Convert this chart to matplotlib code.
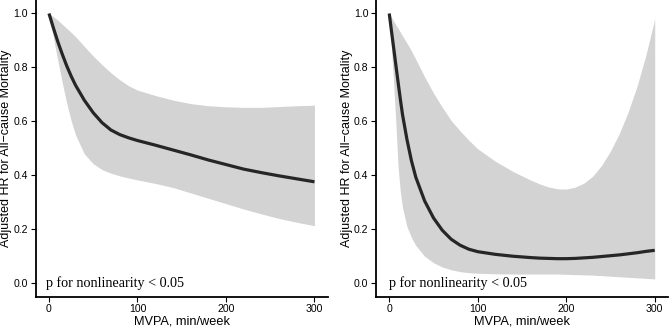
import matplotlib
matplotlib.use("Agg")
import matplotlib.pyplot as plt

# MVPA (min/week) grid and spline estimates
mvpa_left = [0, 5, 10, 15, 20, 25, 30, 40, 50, 60, 70, 80, 90, 100,
             120, 140, 160, 180, 200, 220, 240, 260, 280, 300]
hr_left = [1.0, 0.946, 0.895, 0.849, 0.806, 0.768, 0.734, 0.678, 0.632, 0.595,
           0.568, 0.551, 0.539, 0.529, 0.512, 0.494, 0.476, 0.457, 0.44,
           0.423, 0.41, 0.398, 0.387, 0.376]
upper_left = [1.0, 0.988, 0.975, 0.96, 0.945, 0.93, 0.914, 0.878, 0.842, 0.81,
              0.78, 0.754, 0.732, 0.716, 0.696, 0.679, 0.666, 0.658, 0.654,
              0.652, 0.652, 0.655, 0.658, 0.66]
lower_left = [1.0, 0.91, 0.825, 0.743, 0.668, 0.603, 0.55, 0.479, 0.443, 0.421,
              0.408, 0.398, 0.39, 0.383, 0.37, 0.355, 0.335, 0.315, 0.295,
              0.275, 0.257, 0.24, 0.226, 0.213]

mvpa_right = [0, 2.5, 5, 7.5, 10, 12.5, 15, 20, 25, 30, 40, 50, 60, 70, 80, 90,
              100, 120, 140, 160, 170, 180, 190, 200, 210, 220, 230, 240, 250,
              260, 270, 280, 290, 300]
hr_right = [1.0, 0.935, 0.872, 0.808, 0.745, 0.683, 0.625, 0.533, 0.455, 0.393,
            0.305, 0.242, 0.196, 0.163, 0.141, 0.126, 0.117, 0.107, 0.1, 0.095,
            0.093, 0.092, 0.091, 0.091, 0.092, 0.094, 0.096, 0.099, 0.102,
            0.105, 0.109, 0.113, 0.118, 0.122]
upper_right = [1.0, 0.986, 0.972, 0.958, 0.945, 0.931, 0.917, 0.89, 0.862, 0.83,
               0.765, 0.705, 0.652, 0.603, 0.565, 0.53, 0.498, 0.452, 0.414,
               0.382, 0.368, 0.357, 0.35, 0.349, 0.356, 0.371, 0.397, 0.437,
               0.49, 0.555, 0.635, 0.73, 0.845, 0.98]
lower_right = [1.0, 0.87, 0.74, 0.59, 0.43, 0.34, 0.28, 0.21, 0.17, 0.14, 0.1,
               0.076, 0.06, 0.05, 0.043, 0.039, 0.037, 0.035, 0.034, 0.034,
               0.034, 0.034, 0.034, 0.033, 0.032, 0.031, 0.03, 0.028, 0.026,
               0.024, 0.022, 0.02, 0.018, 0.016]

x_ticks = [0, 100, 200, 300]
y_ticks = [0.0, 0.2, 0.4, 0.6, 0.8, 1.0]
note = "p for nonlinearity < 0.05"

plt.rcParams['font.family'] = 'Liberation Sans'

fig = plt.figure(figsize=(6.69, 3.28), dpi=100)
ax1 = fig.add_axes([0.0534, 0.0954, 0.4365, 0.9046])
ax2 = fig.add_axes([0.562, 0.0954, 0.4365, 0.9046])

panels = [(ax1, mvpa_left, hr_left, upper_left, lower_left, -3),
          (ax2, mvpa_right, hr_right, upper_right, lower_right, 0)]

for ax, x, hr, up, lo, note_x in panels:
    ax.fill_between(x, lo, up, color='#d3d3d3', lw=0)
    ax.plot(x, hr, color='#262626', lw=2.3, solid_capstyle='butt')
    ax.set_xlim(-15, 315)
    ax.set_ylim(-0.05, 1.05)
    ax.set_xticks(x_ticks)
    ax.set_yticks(y_ticks)
    ax.set_yticklabels(["%.1f" % v for v in y_ticks])
    ax.tick_params(labelsize=7.6, length=3.5, width=0.8, colors='black',
                   pad=2)
    for side in ['top', 'right']:
        ax.spines[side].set_visible(False)
    for side in ['left', 'bottom']:
        ax.spines[side].set_linewidth(1.3)
    ax.set_xlabel('MVPA, min/week', fontsize=9.2, labelpad=1)
    ax.set_ylabel('Adjusted HR for All\u2212cause Mortality', fontsize=9.0)
    ax.yaxis.set_label_coords(-0.08, 0.5)
    ax.text(note_x, 0.0, note, family='Liberation Serif', fontsize=10.2,
            ha='left', va='center')

fig.savefig("out.png", dpi=100)
